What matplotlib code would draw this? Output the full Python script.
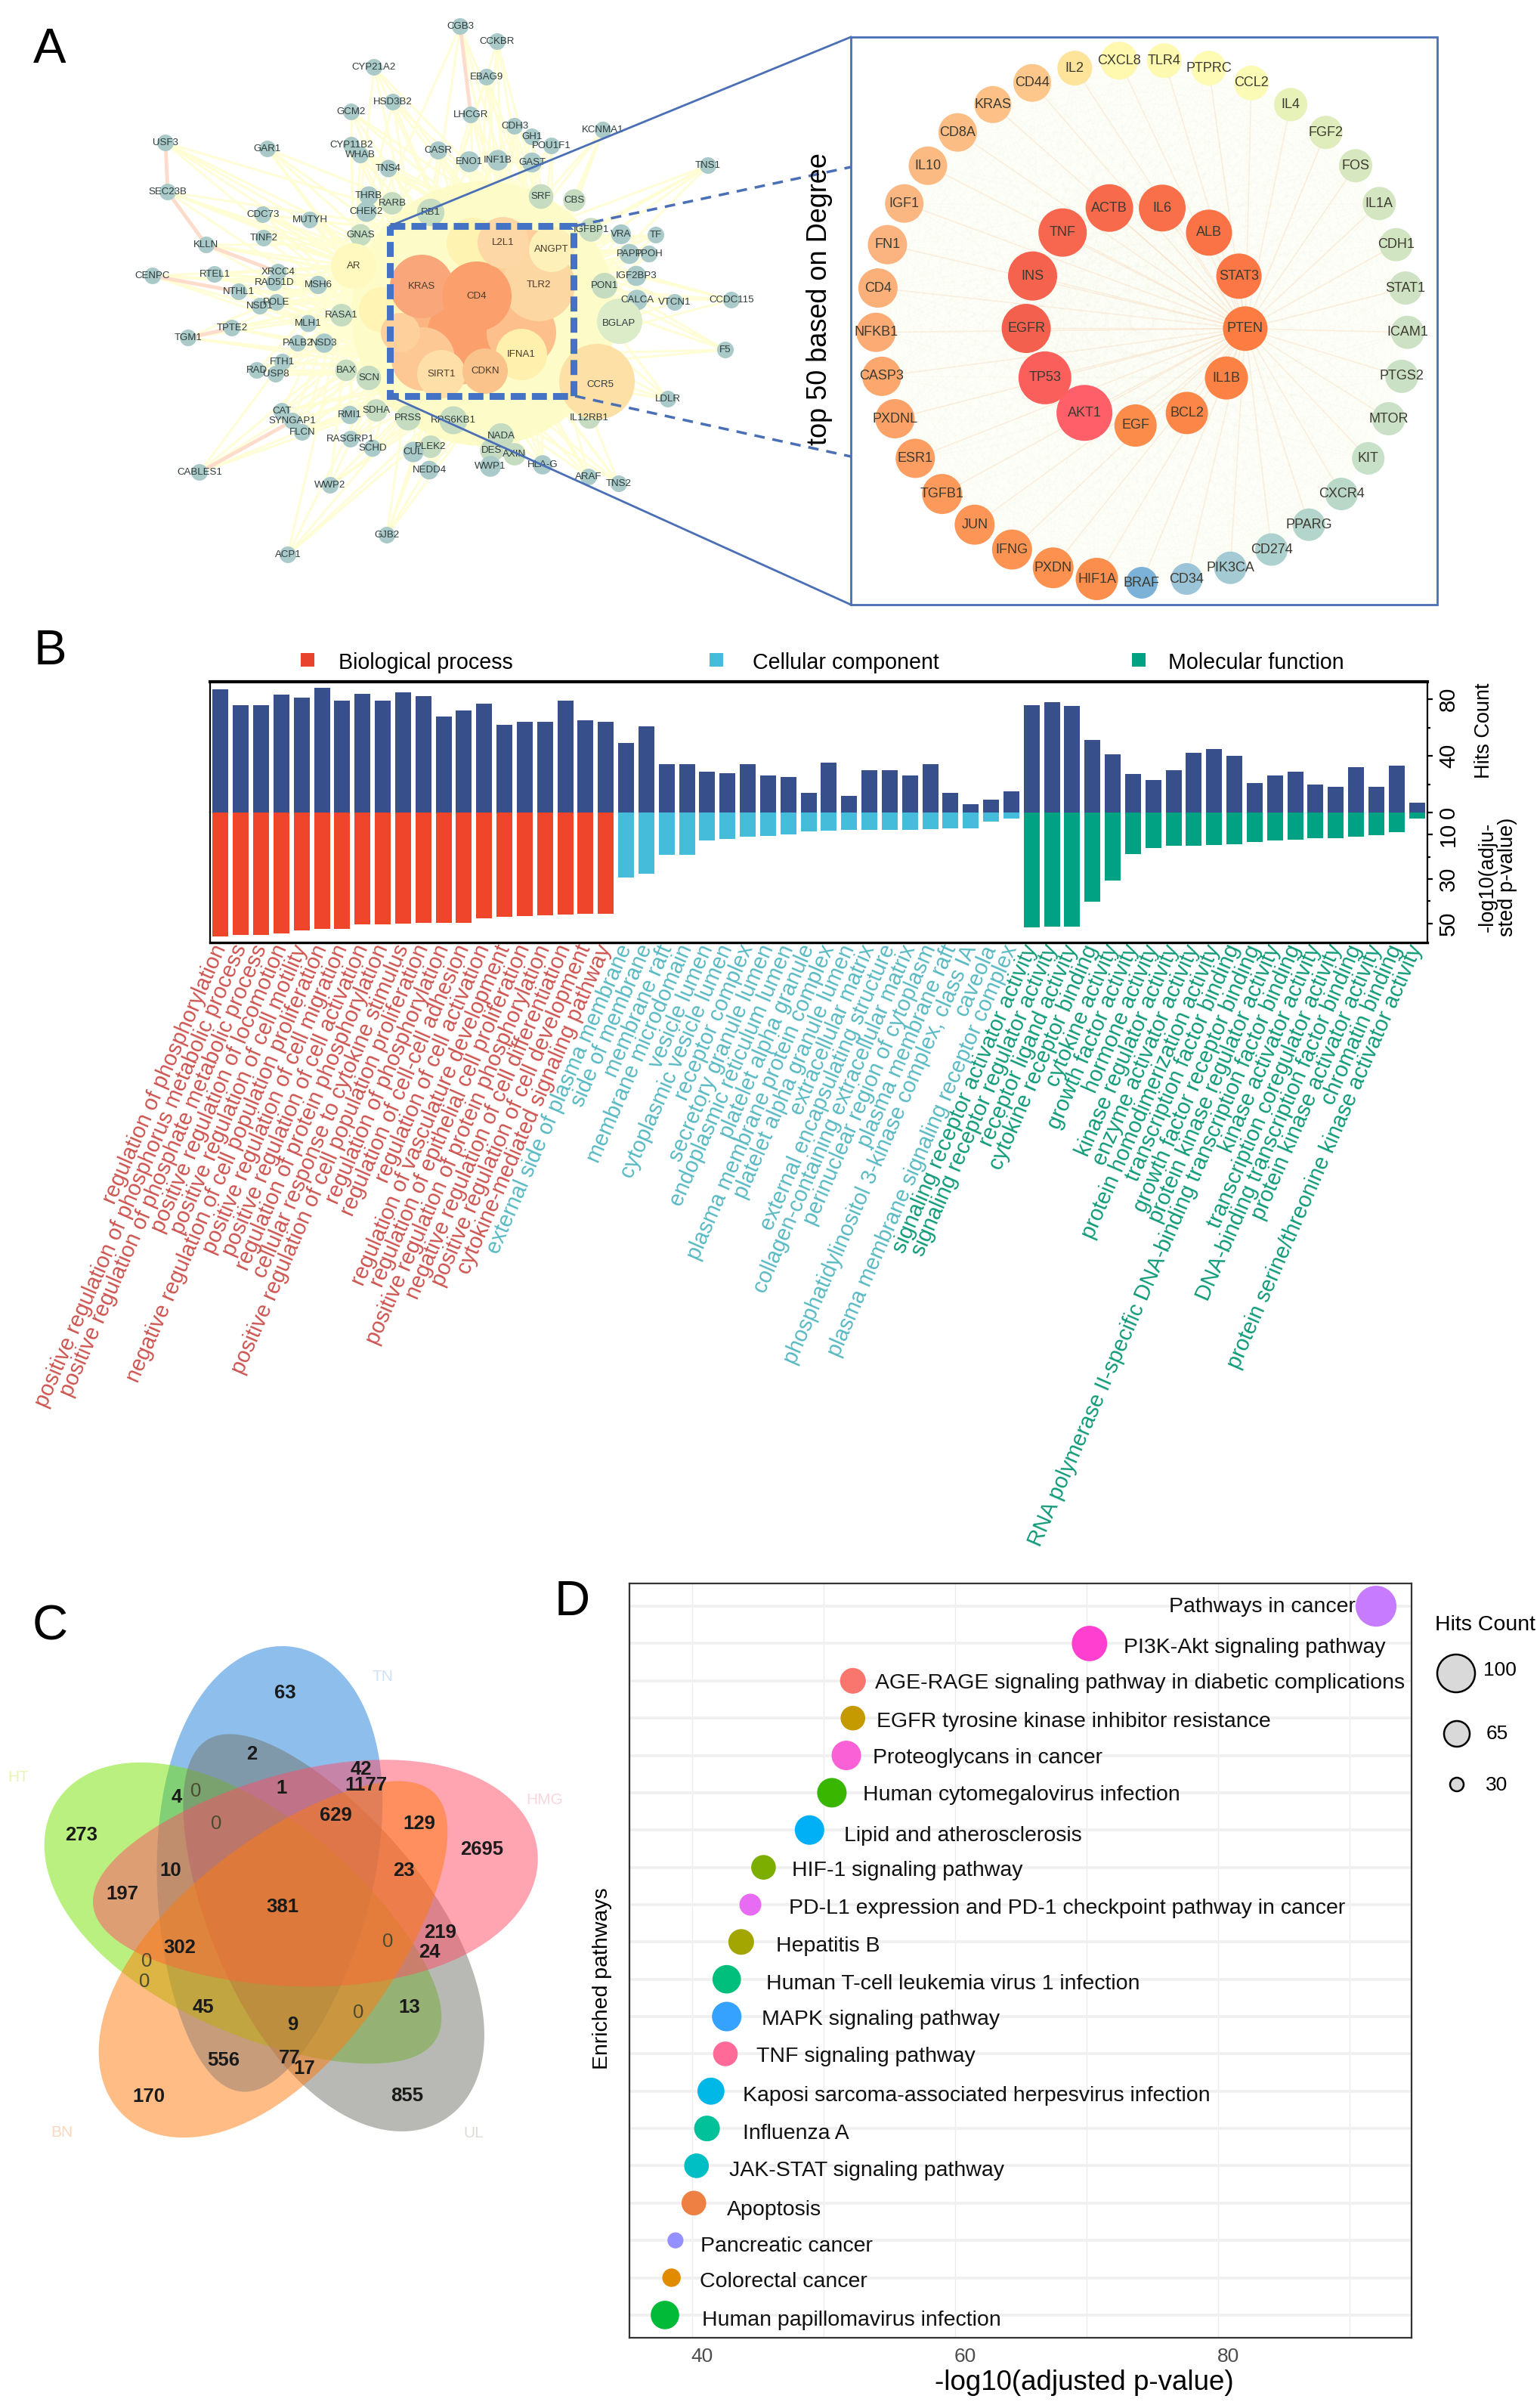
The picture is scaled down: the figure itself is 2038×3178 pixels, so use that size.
import numpy as np
import matplotlib
matplotlib.use("Agg")
import matplotlib.pyplot as plt
from matplotlib.collections import LineCollection
from matplotlib.colors import LinearSegmentedColormap
from matplotlib.patches import Circle, Polygon, Rectangle

plt.rcParams['font.family'] = ['Liberation Sans', 'DejaVu Sans']

W, H = 2038, 3178

# ---- panel A: network nodes
net_names = ['CGB3', 'CCKBR', 'CYP21A2', 'EBAG9', 'HSD3B2', 'GCM2', 'LHCGR', 'CDH3', 'KCNMA1', 'GH1', 'USF3', 'GAR1',
             'CYP11B2', 'WHAB', 'POU1F1', 'CASR', 'ENO1', 'INF1B', 'GAST', 'TNS1', 'TNS4', 'SEC23B', 'THRB', 'RARB',
             'SRF', 'CBS', 'RB1', 'CHEK2', 'CDC73', 'MUTYH', 'TINF2', 'KLLN', 'GNAS', 'IGFBP1', 'VRA', 'TF', 'PAPP',
             'TPOH', 'CENPC', 'RTEL1', 'XRCC4', 'RAD51D', 'MSH6', 'IGF2BP3', 'PON1', 'NTHL1', 'CALCA', 'VTCN1',
             'CCDC115', 'NSD1', 'POLE', 'RASA1', 'BGLAP', 'MLH1', 'TPTE2', 'TGM1', 'PALB2', 'NSD3', 'F5', 'FTH1',
             'RAD', 'USP8', 'BAX', 'SCN', 'LDLR', 'CCR5', 'CAT', 'SYNGAP1', 'FLCN', 'RMI1', 'SDHA', 'IL12RB1', 'PRSS',
             'RPS6KB1', 'RASGRP1', 'SCHD', 'PLEK2', 'CUL', 'NADA', 'DES', 'WWP1', 'AXIN', 'HLA-G', 'CABLES1', 'NEDD4',
             'ARAF', 'TNS2', 'WWP2', 'GJB2', 'ACP1']
net_x = [609, 658, 495, 644, 520, 465, 623, 681, 798, 704, 219, 354, 465, 477, 730, 580, 621, 659, 704, 937, 514, 222,
         488, 519, 716, 760, 570, 485, 348, 410, 349, 273, 477, 782, 822, 868, 833, 859, 202, 284, 368, 363, 421, 842,
         800, 316, 843, 893, 968, 344, 366, 452, 819, 408, 307, 249, 394, 429, 960, 374, 340, 365, 458, 488, 884, 794,
         373, 387, 400, 463, 498, 780, 540, 600, 464, 493, 570, 547, 663, 651, 649, 681, 718, 264, 568, 779, 819, 437,
         512, 381]
net_y = [35, 55, 89, 102, 135, 148, 152, 167, 172, 181, 189, 197, 192, 205, 193, 199, 214, 212, 215, 219, 223, 254, 259,
         269, 260, 265, 281, 280, 284, 291, 315, 324, 311, 304, 310, 311, 336, 336, 365, 363, 360, 374, 377, 365, 378,
         386, 397, 400, 397, 405, 400, 417, 428, 428, 434, 447, 454, 454, 463, 479, 490, 495, 490, 500, 528, 509, 544,
         557, 572, 549, 543, 553, 553, 556, 581, 593, 591, 598, 577, 596, 617, 601, 615, 625, 622, 631, 640, 642, 708,
         734]
hub_names = ['KRAS', 'TLR2', 'CD4', 'IFNA1', 'SIRT1', 'CDKN', 'L2L1', 'ANGPT', 'AR']
hub_x = [558, 713, 631, 690, 584, 642, 666, 730, 468]
hub_y = [379, 377, 392, 469, 495, 491, 321, 330, 352]
hub_r = [42, 48, 46, 34, 32, 30, 34, 30, 30]
hub_colors = ['#f9a77a', '#fdd7a2', '#fb9f6c', '#fff0ae', '#ffdfa8', '#fbc38c', '#fdd7a6', '#fdf0b8', '#fff9c0']
salmon_edges = [('USF3', 'SEC23B'), ('SEC23B', 'KLLN'), ('KLLN', 'XRCC4'), ('CENPC', 'NTHL1'), ('CGB3', 'LHCGR'),
                ('CABLES1', 'SYNGAP1'), ('TGM1', 'TPTE2')]
# unlabelled big nodes hidden under the dashed box
blob_x = [600, 625, 560, 690, 700, 505, 530, 790, 820, 625]
blob_y = [440, 445, 475, 440, 350, 410, 440, 505, 425, 322]
blob_r = [70, 60, 42, 46, 46, 30, 26, 50, 30, 34]
blob_colors = ['#fbb583', '#fb9f6c', '#fdc894', '#fdc08c', '#fdd09a', '#fff4b4', '#fdd09c', '#fde0a6', '#dcebc8',
               '#fff3b2']

# top 50 by degree, clockwise from the inner ring
inner_names = ['AKT1', 'TP53', 'EGFR', 'INS', 'TNF', 'ACTB', 'IL6', 'ALB', 'STAT3', 'PTEN', 'IL1B', 'BCL2', 'EGF']
outer_names = ['HIF1A', 'PXDN', 'IFNG', 'JUN', 'TGFB1', 'ESR1', 'PXDNL', 'CASP3', 'NFKB1', 'CD4', 'FN1', 'IGF1', 'IL10',
               'CD8A', 'KRAS', 'CD44', 'IL2', 'CXCL8', 'TLR4', 'PTPRC', 'CCL2', 'IL4', 'FGF2', 'FOS', 'IL1A', 'CDH1',
               'STAT1', 'ICAM1', 'PTGS2', 'MTOR', 'KIT', 'CXCR4', 'PPARG', 'CD274', 'PIK3CA', 'CD34', 'BRAF']
inner_degree = [148, 140, 130, 130, 128, 126, 124, 122, 120, 118, 114, 112, 112]
outer_degree = [112, 108, 106, 106, 106, 104, 104, 104, 104, 104, 104, 102, 102, 102, 98, 100, 92, 100, 92, 92, 92, 88,
                88, 88, 88, 88, 88, 88, 88, 88, 86, 86, 86, 86, 86, 84, 84]
ring_ranks = [0, 2, 4, 9, 12, 16, 23, 28, 29, 30, 33, 34, 36, 39, 43, 44, 46, 48, 49]
ring_colors = ['#ff5f68', '#f4604d', '#f7664f', '#fc7c42', '#fb8c4a', '#fc9556', '#fbb47f', '#fdc48a', '#fde49a',
               '#fff8ae', '#fdfcb6', '#e7f2b8', '#d7e8c0', '#cfe3c4', '#c8e0c8', '#b9d8c8', '#aed2cd', '#9cc5d8',
               '#7db2d8']

# ---- panel B
bp_terms = ['regulation of phosphorylation', 'positive regulation of phosphorus metabolic process',
            'positive regulation of phosphate metabolic process', 'positive regulation of locomotion',
            'positive regulation of cell motility', 'negative regulation of cell population proliferation',
            'positive regulation of cell migration', 'positive regulation of cell activation',
            'regulation of protein phosphorylation', 'cellular response to cytokine stimulus',
            'positive regulation of cell population proliferation', 'regulation of phosphorylation',
            'regulation of cell-cell adhesion', 'regulation of cell activation',
            'regulation of vasculature development', 'regulation of epithelial cell proliferation',
            'positive regulation of protein phosphorylation', 'negative regulation of cell differentiation',
            'positive regulation of cell development', 'cytokine-mediated signaling pathway']
cc_terms = ['external side of plasma membrane', 'side of membrane', 'membrane raft', 'membrane microdomain',
            'vesicle lumen', 'cytoplasmic vesicle lumen', 'receptor complex', 'secretory granule lumen',
            'endoplasmic reticulum lumen', 'platelet alpha granule', 'plasma membrane protein complex',
            'platelet alpha granule lumen', 'extracellular matrix', 'external encapsulating structure',
            'collagen-containing extracellular matrix', 'perinuclear region of cytoplasm', 'plasma membrane raft',
            'phosphatidylinositol 3-kinase complex, class IA', 'caveola',
            'plasma membrane signaling receptor complex']
mf_terms = ['signaling receptor activator activity', 'signaling receptor regulator activity', 'receptor ligand activity',
            'cytokine receptor binding', 'cytokine activity', 'growth factor activity', 'hormone activity',
            'kinase regulator activity', 'enzyme activator activity', 'protein homodimerization activity',
            'transcription factor binding', 'growth factor receptor binding', 'protein kinase regulator activity',
            'RNA polymerase II-specific DNA-binding transcription factor binding', 'kinase activator activity',
            'transcription coregulator activity', 'DNA-binding transcription factor binding',
            'protein kinase activator activity', 'chromatin binding',
            'protein serine/threonine kinase activator activity']
bp_hits = [87, 76, 76, 83, 81, 88, 79, 84, 79, 85, 82, 68, 72, 77, 62, 64, 64, 79, 65, 64]
cc_hits = [49, 61, 34, 34, 29, 28, 34, 26, 25, 14, 35, 12, 30, 30, 26, 34, 14, 6, 9, 15]
mf_hits = [76, 78, 75, 51, 41, 27, 23, 30, 42, 45, 40, 21, 26, 29, 20, 18, 32, 18, 33, 7]
bp_pval = [55.9, 55.3, 55.3, 54.5, 53.1, 52.6, 52.6, 50.5, 50.3, 50, 49.9, 49.8, 49.8, 47.7, 47, 46.8, 46.5, 46, 45.6, 45.5]
cc_pval = [29.2, 27.7, 19, 19, 12.7, 11.9, 11, 10.5, 9.8, 8.5, 8.3, 8, 7.8, 7.8, 7.8, 7.4, 7.3, 7.3, 4.1, 2.6]
mf_pval = [51.7, 51.5, 51.4, 40.1, 30.6, 18.6, 16, 15.1, 14.9, 14.8, 14.2, 13.3, 12.7, 12.2, 11.7, 11.5, 10.8, 10.2, 9, 2.6]

# ---- panel C
venn_names = ['TN', 'HT', 'UL', 'HMG', 'BN']
venn_counts = ['63', '2', '42', '1177', '1', '4', '0', '0', '629', '129', '273', '2695', '10', '23', '197', '381', '219',
               '0', '302', '24', '0', '0', '45', '13', '0', '9', '556', '77', '17', '170', '855']
venn_count_x = [778, 682, 997, 1012, 767, 466, 521, 580, 925, 1165, 190, 1346, 447, 1120, 310, 770, 1226, 1075, 474,
                1195, 380, 373, 542, 1137, 990, 800, 600, 790, 833, 386, 1130]
venn_count_y = [217, 395, 437, 484, 492, 518, 500, 594, 570, 594, 628, 668, 730, 730, 798, 833, 908, 935, 952, 964, 990,
                1050, 1123, 1123, 1140, 1174, 1277, 1270, 1300, 1380, 1378]

# ---- panel D
pathways = ['Pathways in cancer', 'PI3K-Akt signaling pathway', 'AGE-RAGE signaling pathway in diabetic complications',
            'EGFR tyrosine kinase inhibitor resistance', 'Proteoglycans in cancer', 'Human cytomegalovirus infection',
            'Lipid and atherosclerosis', 'HIF-1 signaling pathway', 'PD-L1 expression and PD-1 checkpoint pathway in cancer',
            'Hepatitis B', 'Human T-cell leukemia virus 1 infection', 'MAPK signaling pathway', 'TNF signaling pathway',
            'Kaposi sarcoma-associated herpesvirus infection', 'Influenza A', 'JAK-STAT signaling pathway', 'Apoptosis',
            'Pancreatic cancer', 'Colorectal cancer', 'Human papillomavirus infection']
path_logp = [92.0, 70.2, 52.2, 52.2, 51.7, 50.6, 48.9, 45.4, 44.4, 43.7, 42.6, 42.6, 42.5, 41.4, 41.1, 40.3, 40.1, 38.7,
             38.4, 37.9]
path_hits = [109, 93, 65, 62, 76, 76, 76, 62, 54, 65, 73, 76, 62, 69, 65, 62, 62, 37, 44, 73]
path_colors = ['#c77cff', '#ff3fd0', '#f8766d', '#c49a00', '#fb61d7', '#39b600', '#00b0f6', '#7cae00', '#e76bf3',
               '#a3a500', '#00bf7d', '#35a2ff', '#ff6a98', '#00b8e7', '#00c19a', '#00bfc4', '#ee8043', '#9590ff',
               '#e08b00', '#00ba38']
path_label_dx = [-274, 45, 29, 31, 35, 41, 46, 38, 51, 46, 52, 46, 41, 42, 47, 43, 44, 33, 37, 49]
path_label_dy = [1, 6, 3, 5, 3, 3, 8, 4, 5, 6, 6, 4, 4, 6, 7, 7, 9, 8, 5, 7]
legend_hits = [100, 65, 30]


def px_axes(x0, y0, x1, y1):
    # axes placed by pixel box of the figure, y counted from the top
    return fig.add_axes([x0 / W, 1 - y1 / H, (x1 - x0) / W, (y1 - y0) / H])


def hits_to_s(h):
    # scatter area from hits count, diameter in px -> points
    d_px = 18 + (np.asarray(h, dtype=float) - 30) * 32 / 70
    return (d_px * 0.72) ** 2


fig = plt.figure(figsize=(W / 100, H / 100), dpi=100, facecolor='white')
bg = fig.add_axes([0, 0, 1, 1])
bg.set_xlim(0, W)
bg.set_ylim(H, 0)
bg.axis('off')

for letter, lx, ly in zip('ABCD', [66, 66, 66, 757], [66, 862, 2153, 2120]):
    bg.text(lx, ly, letter, fontsize=47, ha='center', va='center', color='black')

# ---- A left: network
pos = dict(zip(net_names, zip(net_x, net_y)))
hub_xy = np.column_stack([hub_x, hub_y])
segs = []
for x, y in zip(net_x, net_y):
    order = np.argsort(np.hypot(hub_xy[:, 0] - x, hub_xy[:, 1] - y))[:5]
    segs += [[(x, y), tuple(hub_xy[i])] for i in order]
bg.add_collection(LineCollection(segs, colors='#fffdd2', linewidths=2.2, alpha=0.9, zorder=1))
bg.add_collection(LineCollection([[pos[a], pos[b]] for a, b in salmon_edges], colors='#fddccb', linewidths=3.5, zorder=1.5))
bg.add_patch(Circle((640, 415), 175, fc='#fdfcc8', ec='none', zorder=1.2))

dist = np.hypot(np.array(net_x) - 640, np.array(net_y) - 415)
node_d = np.clip(62 - dist * 0.17, 22, 62)
node_c = ['#c6dcc0' if d < 200 else '#a9cac9' for d in dist]
bg.scatter(net_x, net_y, s=(node_d * 0.72) ** 2, c=node_c, linewidths=0, zorder=2)
for bx, by, br, bc in zip(blob_x, blob_y, blob_r, blob_colors):
    bg.add_patch(Circle((bx, by), br, fc=bc, ec='none', zorder=2.8))
for hx, hy, hr, hc in zip(hub_x, hub_y, hub_r, hub_colors):
    bg.add_patch(Circle((hx, hy), hr, fc=hc, ec='none', zorder=3))
for n, x, y in zip(net_names, net_x, net_y):
    bg.text(x, y, n, fontsize=9.5, ha='center', va='center', color='#2f3b3b', zorder=4)
for n, x, y in zip(hub_names, hub_x, hub_y):
    bg.text(x, y, n, fontsize=9.5, ha='center', va='center', color='#4a3a2a', zorder=4)

blue = '#4a6fb5'
bg.add_patch(Rectangle((516, 299), 243, 225, fc='none', ec='#4472c4', lw=6.5, ls=(0, (2.2, 0.9)), zorder=5))
bg.plot([516, 1126], [299, 49], color=blue, lw=2, zorder=5)
bg.plot([516, 1126], [524, 800], color=blue, lw=2, zorder=5)
bg.plot([761, 1126], [299, 221], color=blue, lw=2.5, ls=(0, (4, 3)), zorder=5)
bg.plot([761, 1126], [524, 604], color=blue, lw=2.5, ls=(0, (4, 3)), zorder=5)
bg.text(1085, 396, 'top 50 based on Degree', rotation=90, fontsize=26, ha='center', va='center', zorder=6)

# ---- A right: two rings, layout from rank, size and colour from degree
bg.add_patch(Rectangle((1126, 49), 776, 751, fc='white', ec=blue, lw=2, zorder=5))
names = inner_names + outer_names
degree = inner_degree + outer_degree
ang_in = np.deg2rad(27.7 * np.arange(1, len(inner_names) + 1))
ang_out = np.deg2rad(360 / len(outer_names) * np.arange(1, len(outer_names) + 1))
ring_x = np.r_[1503 - 146 * np.sin(ang_in), 1511 - 352 * np.sin(ang_out)]
ring_y = np.r_[417 + 146 * np.cos(ang_in), 425 + 346 * np.cos(ang_out)]
ring_cmap = LinearSegmentedColormap.from_list('rank', [(r / 49, c) for r, c in zip(ring_ranks, ring_colors)])
ring_c = ring_cmap(np.linspace(0, 1, len(names)))
xy = list(zip(ring_x, ring_y))
bg.add_patch(Circle((1511, 425), 345, fc='#feffF9', ec='none', zorder=5.1))
mesh = [[xy[i], xy[j]] for i in range(len(xy)) for j in range(i + 1, len(xy))]
bg.add_collection(LineCollection(mesh, colors='#e8f2c8', linewidths=0.6, alpha=0.06, zorder=5.2))
pten = xy[names.index('PTEN')]
bg.add_collection(LineCollection([[pten, p] for p in xy], colors='#fad4b4', linewidths=1.1, alpha=0.35, zorder=5.3))
bg.scatter(ring_x, ring_y, s=(np.array(degree) * 0.5 * 0.72) ** 2, c=ring_c, linewidths=0, zorder=6)
for n, x, y in zip(names, ring_x, ring_y):
    bg.text(x, y, n, fontsize=13, ha='center', va='center', color='#3c3a30', zorder=7)

# ---- B: hits up, p-values down
terms = bp_terms + cc_terms + mf_terms
hits = bp_hits + cc_hits + mf_hits
pvals = bp_pval + cc_pval + mf_pval
cat_colors = ['#ee452b'] * 20 + ['#45bcd9'] * 20 + ['#00a283'] * 20
label_colors = ['#cd5450'] * 20 + ['#58b9c2'] * 20 + ['#0f9a78'] * 20
xpos = np.arange(len(terms))

ax_up = px_axes(278, 902, 1889, 1075)
ax_dn = px_axes(278, 1075, 1889, 1247)
ax_up.bar(xpos, hits, width=0.78, color='#374f8a')
ax_dn.bar(xpos, pvals, width=0.78, color=cat_colors)
ax_up.set_ylim(0, 92.3)
ax_dn.set_ylim(58.6, 0)
for ax in (ax_up, ax_dn):
    ax.set_xlim(-0.52, 59.52)
    ax.yaxis.tick_right()
    for s in ax.spines.values():
        s.set_linewidth(1.6)
    ax.tick_params(axis='y', which='major', length=5, width=1.6, labelsize=21, labelrotation=90, pad=5)
    ax.tick_params(axis='y', which='minor', length=3, width=1.6)
ax_up.spines['bottom'].set_visible(False)
ax_dn.spines['top'].set_visible(False)
ax_up.spines['top'].set_linewidth(3)
ax_dn.spines['bottom'].set_linewidth(2.4)
ax_up.set_xticks([])
ax_up.set_yticks([0, 40, 80])
ax_up.set_yticks([20, 60], minor=True)
ax_dn.set_yticks([10, 30, 50])
ax_dn.set_yticks([20, 40], minor=True)
for ax in (ax_up, ax_dn):
    for t in ax.get_yticklabels():
        t.set_rotation(90)
        t.set_va('center')
ax_dn.set_xticks(xpos)
ax_dn.set_xticklabels(terms, rotation=66.5, ha='right', rotation_mode='anchor', fontsize=20.8)
ax_dn.tick_params(axis='x', length=0, pad=3)
for t, c in zip(ax_dn.get_xticklabels(), label_colors):
    t.set_color(c)
    t.set_va('center')

bg.text(1964, 967, 'Hits Count', rotation=90, fontsize=19.5, ha='center', va='center')
bg.text(1982, 1160, '-log10(adju-\nsted p-value)', rotation=90, fontsize=19.5, ha='center', va='center',
        linespacing=1.0, multialignment='center')
for lab, c, sx, tx in zip(['Biological process', 'Cellular component', 'Molecular function'],
                          ['#e8432c', '#45bcd9', '#00a283'], [407, 948, 1507], [448, 996, 1546]):
    bg.scatter([sx], [873], marker='s', s=150, color=c, linewidths=0)
    bg.text(tx, 877, lab, fontsize=20.6, ha='left', va='center')

# ---- C: five petals
ax_v = px_axes(20, 2140, 740, 2860)
ax_v.set_xlim(0, 1568)
ax_v.set_ylim(1568, 0)
ax_v.axis('off')
petal_cx = [722, 665, 895, 865, 760]
petal_cy = [725, 875, 900, 750, 970]
petal_ang = [-83.6, -148, 58, -7.3, 134]
petal_col = ['#1e7fdb', '#76e300', '#72756b', '#ff4d66', '#ff7b0c']
t = np.linspace(0, 2 * np.pi, 240)
for cx, cy, a, c in zip(petal_cx, petal_cy, petal_ang, petal_col):
    ex = 645 * np.cos(t)
    ey = 315 * np.sin(t) * (1 + 0.18 * np.cos(t))
    th = np.deg2rad(a)
    ax_v.add_patch(Polygon(np.column_stack([cx + ex * np.cos(th) - ey * np.sin(th),
                                            cy + ex * np.sin(th) + ey * np.cos(th)]),
                           fc=c, ec='none', alpha=0.5))
for n, x, y, c in zip(venn_names, [1060, 10, 1322, 1525, 135], [170, 460, 1487, 527, 1485],
                      ['#cfe2f5', '#e6f5b0', '#dcdcd6', '#f9d5dc', '#fbd7bd']):
    ax_v.text(x, y, n, fontsize=15, ha='center', va='center', color=c, clip_on=False)
for s, x, y in zip(venn_counts, venn_count_x, venn_count_y):
    ax_v.text(x, y, s, fontsize=18.5, ha='center', va='center', color='#1a1a1a' if s != '0' else '#4a4a30',
              fontweight='bold' if s != '0' else 'normal')

# ---- D: bubble plot
ax_d = px_axes(833, 2095, 1868, 3093)
ypos = np.arange(len(pathways))[::-1]
ax_d.set_xlim(35.2, 94.7)
ax_d.set_ylim(-0.61, 19.61)
ax_d.set_axisbelow(True)
ax_d.set_xticks([40, 60, 80])
ax_d.set_xticks([50, 70, 90], minor=True)
ax_d.set_yticks(ypos)
ax_d.set_yticklabels([])
ax_d.grid(axis='x', which='both', color='#ececec', lw=1)
ax_d.grid(axis='y', color='#f0f0f0', lw=2.6)
ax_d.tick_params(which='both', length=0)
ax_d.set_xticklabels([])
for s in ax_d.spines.values():
    s.set_linewidth(1.6)
    s.set_color('#333333')
ax_d.scatter(path_logp, ypos, s=hits_to_s(path_hits), c=path_colors, linewidths=0, zorder=3)
for name, x, y, dx, dy in zip(pathways, path_logp, ypos, path_label_dx, path_label_dy):
    ax_d.annotate(name, (x, y), xytext=(dx, -dy), textcoords='offset pixels', fontsize=20.5, ha='left', va='center',
                  color='#111111', zorder=4)
for v in [40, 60, 80]:
    ax_d.annotate(str(v), (v, 0), xycoords=('data', 'axes fraction'), xytext=(13, -25), textcoords='offset pixels',
                  fontsize=19, ha='center', va='center', color='#4d4d4d')
bg.text(1435, 3153, '-log10(adjusted p-value)', fontsize=26.5, ha='center', va='center')
bg.text(797, 2618, 'Enriched pathways', rotation=90, fontsize=20.5, ha='center', va='center')

bg.text(1966, 2150, 'Hits Count', fontsize=20.5, ha='center', va='center')
bg.scatter([1927, 1928, 1928], [2214, 2294, 2361], s=hits_to_s(legend_hits), c='#d9d9d9', edgecolors='black',
           linewidths=1.8, zorder=3)
for v, x, y in zip(legend_hits, [1985, 1981, 1981], [2210, 2294, 2362]):
    bg.text(x, y, str(v), fontsize=19, ha='center', va='center')

fig.savefig('out.png', dpi=100)
